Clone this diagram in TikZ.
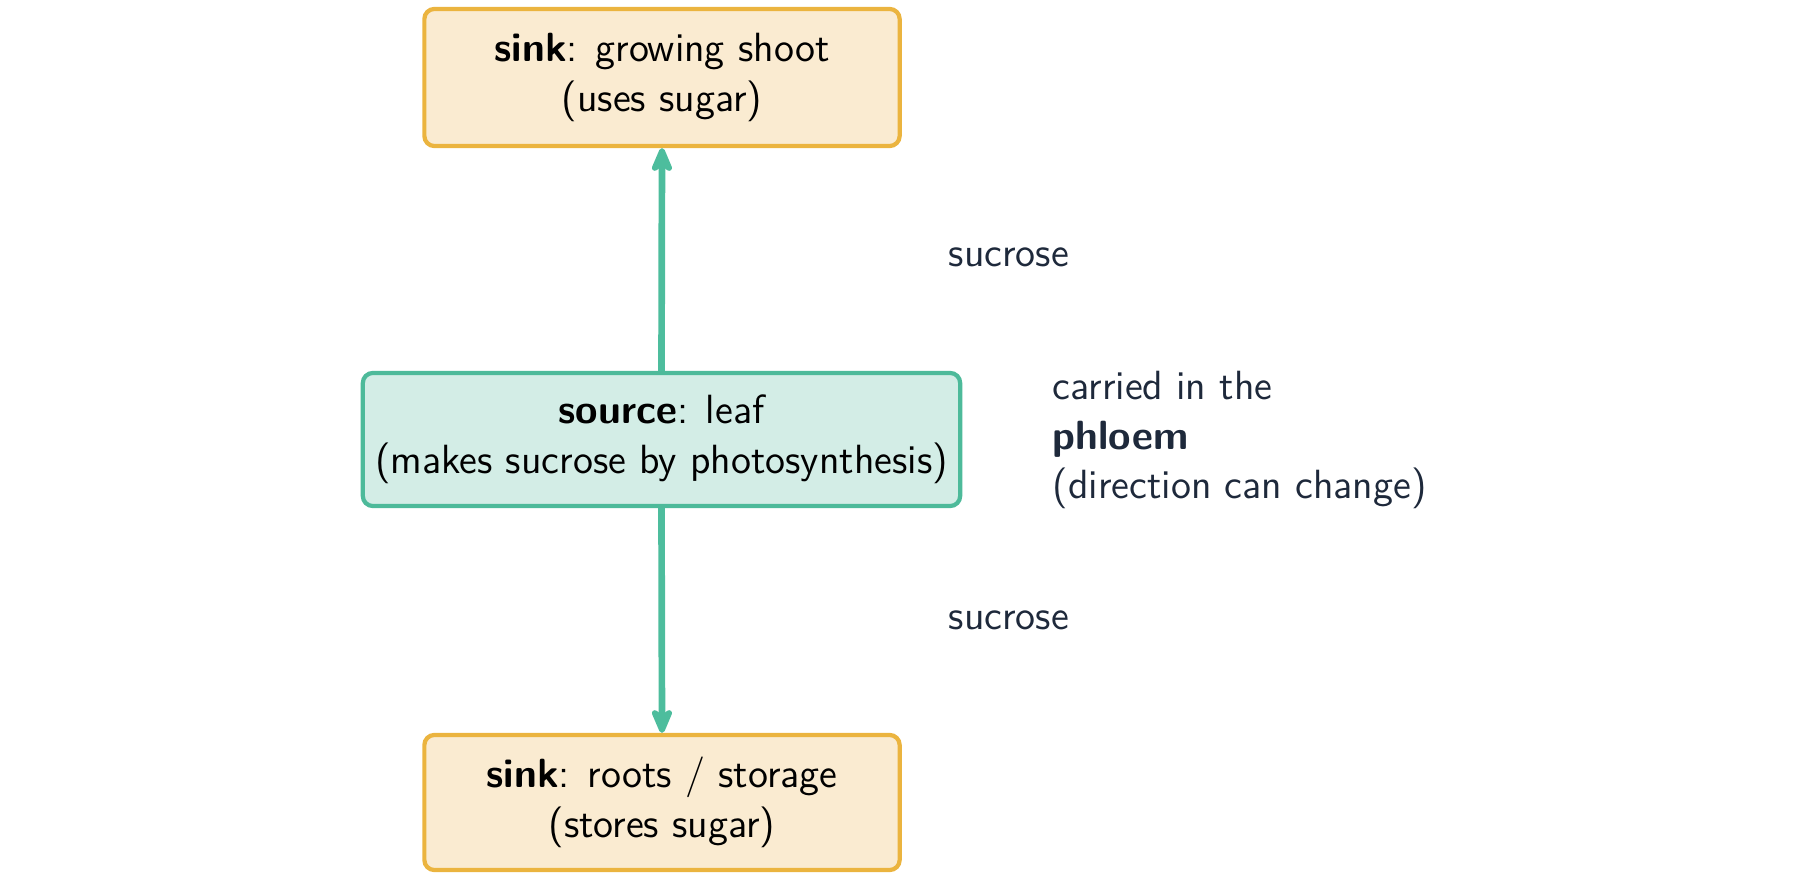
\documentclass[tikz,border=0pt]{standalone}
\usetikzlibrary{arrows.meta}
\renewcommand{\familydefault}{\sfdefault}
\definecolor{sinkfill}{HTML}{FAEBD1}
\definecolor{sinkdraw}{HTML}{EBB43F}
\definecolor{srcfill}{HTML}{D3EDE6}
\definecolor{srcdraw}{HTML}{4DBA9A}
\definecolor{flow}{HTML}{4DBD9D}
\definecolor{lbl}{HTML}{1E293B}
\tikzset{
  box/.style={rounded corners=0.1cm, line width=1.2pt, align=center, inner sep=0pt,
    font=\fontsize{11.6}{14.1}\selectfont, text=black},
  sinkbox/.style={box, fill=sinkfill, draw=sinkdraw},
  srcbox/.style={box, fill=srcfill, draw=srcdraw},
  flowarrow/.style={draw=flow, line width=1.9pt, -{Stealth[round, length=9pt, width=7.5pt, inset=2.5pt]}},
  note/.style={text=lbl, font=\fontsize{11.6}{14.1}\selectfont, inner sep=0pt, align=left}
}
\begin{document}
\begin{tikzpicture}[x=0.01cm, y=-0.01cm]
\useasboundingbox (0,0) rectangle (1800,882);
\node[sinkbox, minimum width=4.75cm, minimum height=1.37cm] (top) at (662,77.5)
  {\textbf{sink}: growing shoot\\(uses sugar)};
\node[srcbox, minimum width=5.97cm, minimum height=1.33cm] (src) at (661.5,439.5)
  {\textbf{source}: leaf\\(makes sucrose by photosynthesis)};
\node[sinkbox, minimum width=4.75cm, minimum height=1.35cm] (bot) at (662,802.5)
  {\textbf{sink}: roots / storage\\(stores sugar)};
\draw[flowarrow] (src.north) -- (top.south);
\draw[flowarrow] (src.south) -- (bot.north);
\node[note, anchor=west] (s1) at (948,257) {sucrose};
\node[note, anchor=west] (s2) at (948,620) {sucrose};
\node[note, anchor=west] (ph) at (1052,440) {carried in the\\\textbf{phloem}\\(direction can change)};
\end{tikzpicture}
\end{document}
